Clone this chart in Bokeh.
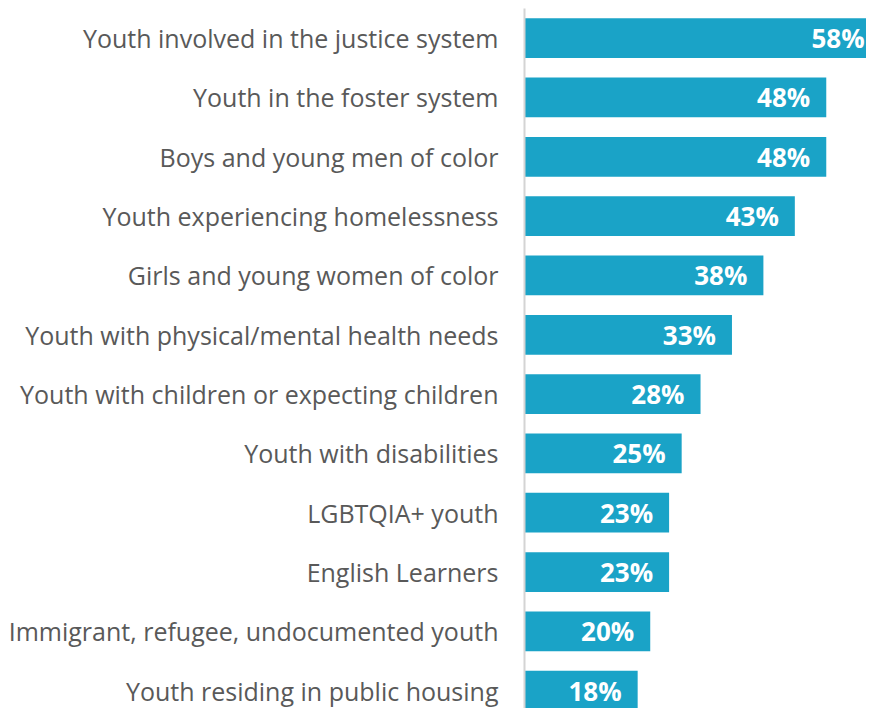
from bokeh.plotting import figure
from bokeh.models import Range1d, FixedTicker, ColumnDataSource
from bokeh.embed import file_html
from bokeh.resources import INLINE
from bokeh.core.properties import value

categories = [
    "Youth involved in the justice system",
    "Youth in the foster system",
    "Boys and young men of color",
    "Youth experiencing homelessness",
    "Girls and young women of color",
    "Youth with physical/mental health needs",
    "Youth with children or expecting children",
    "Youth with disabilities",
    "LGBTQIA+ youth",
    "English Learners",
    "Immigrant, refugee, undocumented youth",
    "Youth residing in public housing",
]
values = [58, 48, 48, 43, 38, 33, 28, 25, 23, 23, 20, 18]
value_labels = ["58%", "48%", "48%", "43%", "38%", "33%", "28%", "25%", "23%", "23%", "20%", "18%"]

n = len(categories)
ypos = [n - 1 - i for i in range(n)]
XMAX = 54.4
label_x = [min(v - 2.55, XMAX - 0.3) for v in values]

src = ColumnDataSource(dict(y=ypos, v=values, lx=label_x, lab=value_labels))

p = figure(width=866, height=708, output_backend="svg", toolbar_location=None,
           x_range=Range1d(0, XMAX), y_range=Range1d(-0.3, n - 0.5),
           x_axis_location=None, min_border_left=524, min_border_right=0,
           min_border_top=8, min_border_bottom=0)
p.outline_line_color = None
p.grid.visible = False
p.background_fill_color = "white"
p.border_fill_color = "white"

p.hbar(y="y", right="v", left=0, height=0.67, source=src,
       fill_color="#1aa3c7", line_color=None)
p.text(x="lx", y="y", text="lab", source=src, text_align="right",
       text_baseline="middle", text_color="white",
       text_font=value("Open Sans"), text_font_size="26px",
       text_font_style="bold")

ax = p.yaxis[0]
ax.ticker = FixedTicker(ticks=ypos)
ax.major_label_overrides = {y: c for y, c in zip(ypos, categories)}
ax.major_tick_line_color = None
ax.minor_tick_line_color = None
ax.major_tick_out = 0
ax.major_tick_in = 0
ax.major_label_standoff = 26
ax.major_label_text_font = "Open Sans"
ax.major_label_text_font_size = "25px"
ax.major_label_text_color = "#595959"
ax.axis_line_color = "#d4d4d4"
ax.axis_line_width = 2

open("out.html", "w").write(file_html(p, INLINE))
